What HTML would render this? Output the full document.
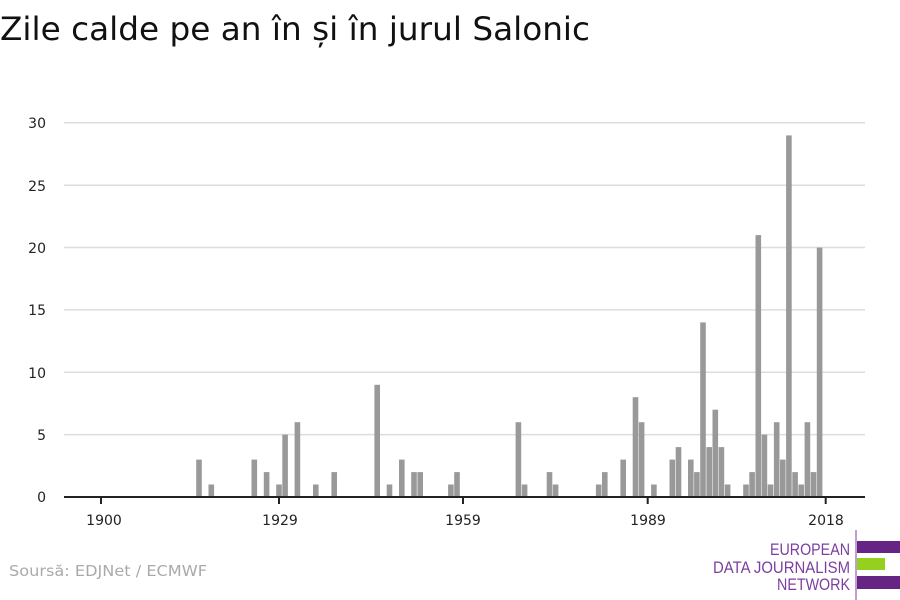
<!DOCTYPE html>
<html><head><meta charset="utf-8"><style>
body{margin:0;background:#fff;}
svg{display:block;font-family:"DejaVu Sans","Liberation Sans",sans-serif;}
</style></head><body>
<svg width="900" height="600" viewBox="0 0 900 600" xmlns="http://www.w3.org/2000/svg">
<text x="0" y="40" font-size="32" fill="#111" textLength="590" lengthAdjust="spacingAndGlyphs">Zile calde pe an în și în jurul Salonic</text>
<g stroke="#dddddd" stroke-width="1.5">
<line x1="64" x2="865" y1="434.6" y2="434.6"/>
<line x1="64" x2="865" y1="372.2" y2="372.2"/>
<line x1="64" x2="865" y1="309.9" y2="309.9"/>
<line x1="64" x2="865" y1="247.5" y2="247.5"/>
<line x1="64" x2="865" y1="185.2" y2="185.2"/>
<line x1="64" x2="865" y1="122.8" y2="122.8"/>
</g>
<g font-size="14" fill="#222" text-anchor="end">
<text x="46" y="502">0</text><text x="46" y="440">5</text><text x="46" y="378">10</text>
<text x="46" y="315">15</text><text x="46" y="253">20</text><text x="46" y="191">25</text><text x="46" y="128">30</text>
</g>
<g fill="#999999">
<rect x="196.2" y="459.6" width="5.6" height="37.4"/>
<rect x="208.5" y="484.5" width="5.6" height="12.5"/>
<rect x="251.5" y="459.6" width="5.6" height="37.4"/>
<rect x="263.8" y="472.1" width="5.6" height="24.9"/>
<rect x="276.2" y="484.5" width="5.6" height="12.5"/>
<rect x="282.3" y="434.6" width="5.6" height="62.4"/>
<rect x="294.6" y="422.2" width="5.6" height="74.8"/>
<rect x="313.0" y="484.5" width="5.6" height="12.5"/>
<rect x="331.4" y="472.1" width="5.6" height="24.9"/>
<rect x="374.4" y="384.8" width="5.6" height="112.2"/>
<rect x="386.7" y="484.5" width="5.6" height="12.5"/>
<rect x="399.0" y="459.6" width="5.6" height="37.4"/>
<rect x="411.2" y="472.1" width="5.6" height="24.9"/>
<rect x="417.4" y="472.1" width="5.6" height="24.9"/>
<rect x="448.1" y="484.5" width="5.6" height="12.5"/>
<rect x="454.2" y="472.1" width="5.6" height="24.9"/>
<rect x="515.6" y="422.2" width="5.6" height="74.8"/>
<rect x="521.8" y="484.5" width="5.6" height="12.5"/>
<rect x="546.7" y="472.1" width="5.6" height="24.9"/>
<rect x="552.8" y="484.5" width="5.6" height="12.5"/>
<rect x="595.9" y="484.5" width="5.6" height="12.5"/>
<rect x="602.0" y="472.1" width="5.6" height="24.9"/>
<rect x="620.4" y="459.6" width="5.6" height="37.4"/>
<rect x="632.7" y="397.2" width="5.6" height="99.8"/>
<rect x="638.8" y="422.2" width="5.6" height="74.8"/>
<rect x="651.1" y="484.5" width="5.6" height="12.5"/>
<rect x="669.5" y="459.6" width="5.6" height="37.4"/>
<rect x="675.7" y="447.1" width="5.6" height="49.9"/>
<rect x="688.0" y="459.6" width="5.6" height="37.4"/>
<rect x="694.1" y="472.1" width="5.6" height="24.9"/>
<rect x="700.2" y="322.4" width="5.6" height="174.6"/>
<rect x="706.4" y="447.1" width="5.6" height="49.9"/>
<rect x="712.5" y="409.7" width="5.6" height="87.3"/>
<rect x="718.6" y="447.1" width="5.6" height="49.9"/>
<rect x="724.8" y="484.5" width="5.6" height="12.5"/>
<rect x="743.2" y="484.5" width="5.6" height="12.5"/>
<rect x="749.3" y="472.1" width="5.6" height="24.9"/>
<rect x="755.5" y="235.1" width="5.6" height="261.9"/>
<rect x="761.6" y="434.6" width="5.6" height="62.4"/>
<rect x="767.7" y="484.5" width="5.6" height="12.5"/>
<rect x="773.9" y="422.2" width="5.6" height="74.8"/>
<rect x="780.0" y="459.6" width="5.6" height="37.4"/>
<rect x="786.1" y="135.4" width="5.6" height="361.6"/>
<rect x="792.3" y="472.1" width="5.6" height="24.9"/>
<rect x="798.4" y="484.5" width="5.6" height="12.5"/>
<rect x="804.6" y="422.2" width="5.6" height="74.8"/>
<rect x="810.7" y="472.1" width="5.6" height="24.9"/>
<rect x="816.8" y="247.6" width="5.6" height="249.4"/>
</g>
<line x1="64" x2="865" y1="497" y2="497" stroke="#222" stroke-width="2"/>
<g stroke="#222" stroke-width="2">
<line x1="101" x2="101" y1="497" y2="504"/><line x1="279" x2="279" y1="497" y2="504"/>
<line x1="463" x2="463" y1="497" y2="504"/><line x1="647.7" x2="647.7" y1="497" y2="504"/>
<line x1="825.7" x2="825.7" y1="497" y2="504"/>
</g>
<g font-size="14" fill="#222" text-anchor="middle">
<text x="104" y="525">1900</text><text x="280" y="525">1929</text><text x="463" y="525">1959</text>
<text x="648" y="525">1989</text><text x="826" y="525">2018</text>
</g>
<text x="9" y="576" font-size="15" fill="#aaa" textLength="198" lengthAdjust="spacingAndGlyphs">Soursă: EDJNet / ECMWF</text>
<line x1="856" x2="856" y1="530" y2="600" stroke="#7b3fa0" stroke-width="1"/>
<rect x="857" y="541" width="43" height="12" fill="#662484"/>
<rect x="857" y="558" width="28" height="12" fill="#95d01f"/>
<rect x="857" y="576" width="43" height="13" fill="#662484"/>
<g font-family="'Liberation Sans Narrow','Liberation Sans',sans-serif" font-size="17" fill="#7b3fa0">
<text x="770" y="555" textLength="80" lengthAdjust="spacingAndGlyphs">EUROPEAN</text>
<text x="713" y="573" textLength="137" lengthAdjust="spacingAndGlyphs">DATA JOURNALISM</text>
<text x="777" y="590" textLength="73" lengthAdjust="spacingAndGlyphs">NETWORK</text>
</g>
</svg>
</body></html>
